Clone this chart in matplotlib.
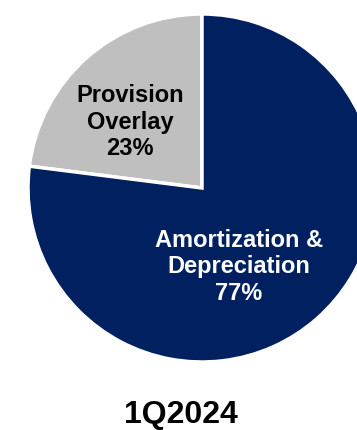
import matplotlib.pyplot as plt

plt.rcParams['font.family'] = ['Liberation Sans', 'DejaVu Sans']

names = ['Provision\nOverlay', 'Amortization &\nDepreciation']
shares = [23, 77]
colors = ['#BFBFBF', '#002060']
text_colors = ['black', 'white']
period = '1Q2024'

fig = plt.figure(figsize=(3.57, 4.30), dpi=100)
ax = fig.add_axes([0, 0, 1, 1])

wedges, _ = ax.pie(shares, colors=colors, startangle=90, counterclock=True,
                   center=(202, 242), radius=174,
                   wedgeprops=dict(edgecolor='white', linewidth=2.5))

# label positions inside each slice
label_xy = [(130, 308), (239, 163)]
for name, share, (x, y), c in zip(names, shares, label_xy, text_colors):
    ax.text(x, y, f'{name}\n{share}%', ha='center', va='center', color=c,
            fontsize=17, fontweight='bold', linespacing=1.22)

ax.text(181, 15, period, ha='center', va='center', fontsize=23, fontweight='bold')

ax.set_xlim(0, 357)
ax.set_ylim(0, 430)
ax.set_aspect('auto')
ax.axis('off')

fig.savefig('out.png', dpi=100)
